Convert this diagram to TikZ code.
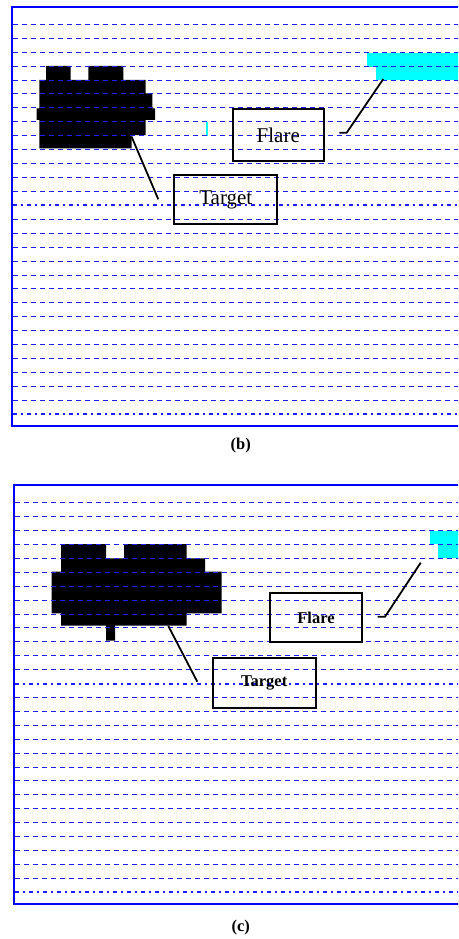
\documentclass[tikz,border=0pt]{standalone}
\usepackage{fontspec}
\setmainfont{Liberation Serif}
\definecolor{lineblue}{RGB}{30,30,255}
\definecolor{flarecyan}{RGB}{0,255,255}
\tikzset{
  gridline/.style={lineblue, line width=1pt, dash pattern=on 5pt off 4pt},
  gridthick/.style={lineblue, line width=2pt, dash pattern=on 4pt off 4pt on 2pt off 4pt},
  frameline/.style={blue, line width=2pt},
  labelboxb/.style={draw, line width=2pt, inner sep=0pt, font=\fontsize{21}{24}\selectfont},
  labelboxc/.style={draw, line width=2pt, inner sep=0pt, font=\bfseries\fontsize{16.5}{19}\selectfont},
  leader/.style={line width=1.8pt, black},
  captiontext/.style={font=\bfseries\fontsize{16.5}{19}\selectfont}
}
\begin{document}
\begin{tikzpicture}[x=1pt,y=-1pt]
\useasboundingbox (0,0) rectangle (458,939);
\clip (0,0) rectangle (458,939);

% ---------------- panel (b) ----------------
\fill[flarecyan] (366.7,52.7) rectangle (462,66.7);
\fill[flarecyan] (376,66.7) rectangle (462,80);
\fill[flarecyan] (205.7,121.7) rectangle (207.7,136);
\fill[black] (46,66) -- (70.7,66) -- (70.7,80) -- (88.3,80) -- (88.3,66) -- (123.3,66) -- (123.3,80)
  -- (145.7,80) -- (145.7,93.3) -- (152.3,93.3) -- (152.3,108.3) -- (155,108.3) -- (155,120)
  -- (145.7,120) -- (145.7,135) -- (131.7,135) -- (131.7,148.3) -- (39.3,148.3) -- (39.3,120)
  -- (36.7,120) -- (36.7,108.3) -- (39.3,108.3) -- (39.3,80) -- (46,80) -- cycle;
\foreach \i in {0,...,28} {
  \pgfmathsetmacro{\yy}{floor(24.3+13.93*\i)+0.5}
  \pgfmathsetmacro{\yt}{round(24.3+13.93*\i)}
  \ifnum\i=13 \draw[gridthick] (13,\yt) -- (462,\yt);
  \else\ifnum\i=28 \draw[gridthick] (13,\yt) -- (462,\yt);
  \else \draw[gridline] (13,\yy) -- (462,\yy);
  \fi\fi
}
\node[labelboxb, minimum width=91.3pt, minimum height=51.4pt] (flareb) at (278.3,135) {Flare};
\node[labelboxb, minimum width=103pt, minimum height=48.7pt] (targetb) at (225.8,199.7) {Target};
\coordinate (fb1) at (339.3,132.7);
\coordinate (fb2) at (346.7,132.7);
\coordinate (fb3) at (383.3,79);
\coordinate (tb1) at (131.5,136.5);
\coordinate (tb2) at (158.3,199.3);
\draw[leader] (fb1) -- (fb2) -- (fb3);
\draw[leader] (tb1) -- (tb2);
\draw[frameline] (470,7) -- (12,7) -- (12,426) -- (470,426);
\node[captiontext] (capb) at (240.7,445.7) {(b)};

% ---------------- panel (c) ----------------
\fill[flarecyan] (430,530.7) rectangle (462,544);
\fill[flarecyan] (438.3,544) rectangle (462,558.3);
\fill[black] (61,544) -- (106,544) -- (106,558.3) -- (124,558.3) -- (124,544) -- (186.7,544)
  -- (186.7,558.3) -- (205,558.3) -- (205,571.7) -- (221.7,571.7) -- (221.7,613.3) -- (186.7,613.3)
  -- (186.7,625.7) -- (115,625.7) -- (115,640.7) -- (106,640.7) -- (106,625.7) -- (61,625.7)
  -- (61,613.3) -- (51.7,613.3) -- (51.7,571.7) -- (61,571.7) -- cycle;
\foreach \i in {0,...,28} {
  \pgfmathsetmacro{\yy}{floor(502.7+13.915*\i)+0.5}
  \pgfmathsetmacro{\yt}{round(502.7+13.915*\i)}
  \ifnum\i=13 \draw[gridthick] (15,\yt) -- (462,\yt);
  \else\ifnum\i=28 \draw[gridthick] (15,\yt) -- (462,\yt);
  \else \draw[gridline] (15,\yy) -- (462,\yy);
  \fi\fi
}
\node[labelboxc, minimum width=91.4pt, minimum height=49pt] (flarec) at (316,617.8) {Flare};
\node[labelboxc, minimum width=103pt, minimum height=50.3pt] (targetc) at (264.2,682.9) {Target};
\coordinate (fc1) at (377.7,616.7);
\coordinate (fc2) at (385,616.7);
\coordinate (fc3) at (420.7,562.7);
\coordinate (tc1) at (168.3,626);
\coordinate (tc2) at (197.3,681.7);
\draw[leader] (fc1) -- (fc2) -- (fc3);
\draw[leader] (tc1) -- (tc2);
\draw[frameline] (470,485) -- (14,485) -- (14,904) -- (470,904);
\node[captiontext] (capc) at (240.7,928) {(c)};
\end{tikzpicture}
\end{document}
